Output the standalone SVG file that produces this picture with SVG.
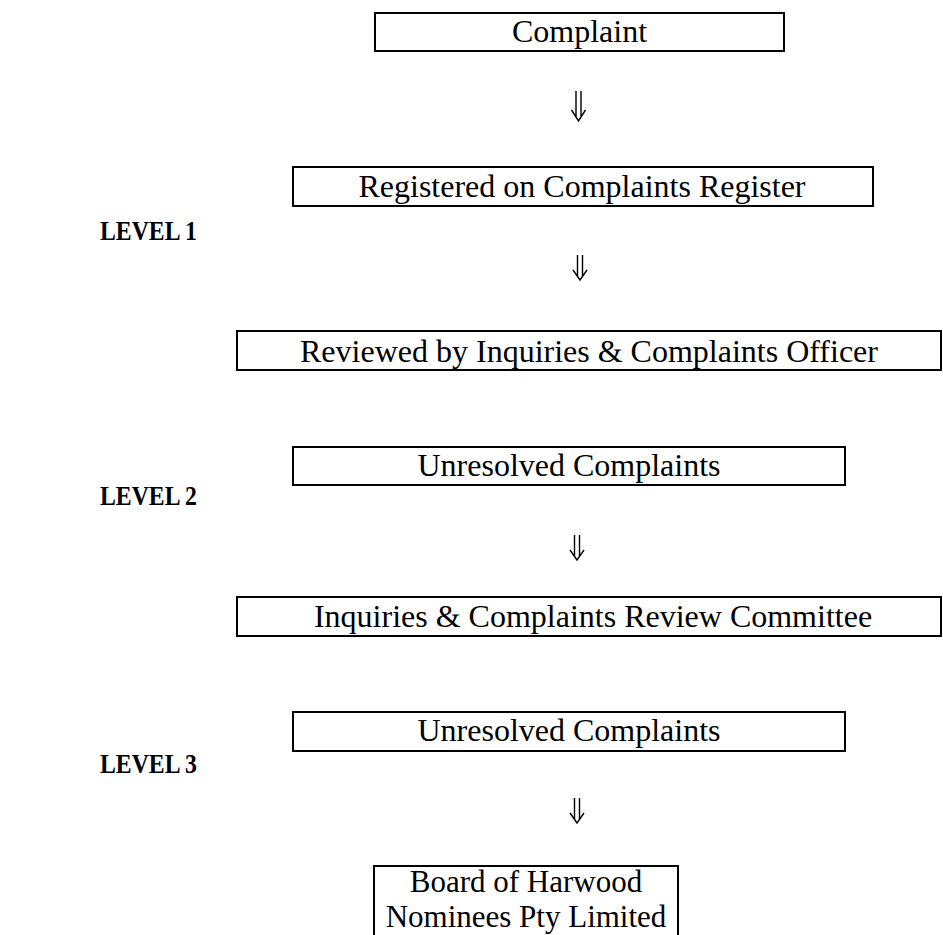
<svg xmlns="http://www.w3.org/2000/svg" width="943" height="935" viewBox="0 0 943 935">
<style>
.box{fill:#fff;stroke:#000;stroke-width:2}
.t{font-family:"Liberation Serif","Times New Roman",serif;font-size:32px;fill:#000;text-anchor:middle}
.t2{font-family:"Liberation Serif","Times New Roman",serif;font-size:31px;fill:#000;text-anchor:middle}
.lv{font-family:"Liberation Serif","Times New Roman",serif;font-size:28px;font-weight:bold;fill:#000}
.arr{fill:none;stroke:#000;stroke-width:1.4}
</style>
<rect width="943" height="935" fill="#fff"/>
<g id="n1"><rect class="box" x="375" y="13" width="409" height="38"/><text class="t" x="579.5" y="42">Complaint</text></g>
<g id="n2"><rect class="box" x="293" y="167" width="580" height="39"/><text class="t" x="582" y="197">Registered on Complaints Register</text></g>
<g id="n3"><rect class="box" x="237" y="331" width="704" height="39"/><text class="t" x="589" y="362">Reviewed by Inquiries &amp; Complaints Officer</text></g>
<g id="n4"><rect class="box" x="293" y="447" width="552" height="38"/><text class="t" x="569" y="476">Unresolved Complaints</text></g>
<g id="n5"><rect class="box" x="237" y="597" width="704" height="39"/><text class="t" x="593" y="627">Inquiries &amp; Complaints Review Committee</text></g>
<g id="n6"><rect class="box" x="293" y="712" width="552" height="39"/><text class="t" x="569" y="741">Unresolved Complaints</text></g>
<g id="n7"><rect class="box" x="374" y="866" width="304" height="80"/><text class="t2" x="526" y="892">Board of Harwood</text><text class="t2" x="526" y="927">Nominees Pty Limited</text></g>
<g id="lv1"><text class="lv" x="100" y="240" textLength="97" lengthAdjust="spacingAndGlyphs">LEVEL 1</text></g>
<g id="lv2"><text class="lv" x="100" y="505" textLength="97" lengthAdjust="spacingAndGlyphs">LEVEL 2</text></g>
<g id="lv3"><text class="lv" x="100" y="773" textLength="97" lengthAdjust="spacingAndGlyphs">LEVEL 3</text></g>
<g id="connectors">
<path class="arr" d="M576 91V117M581 91V117M571.5 110L578.5 121L585.5 110"/>
<path class="arr" d="M577.5 255V276M582.5 255V276M573 270L580 280L587 270"/>
<path class="arr" d="M574.5 535V556M579.5 535V556M570 550L577 560L584 550"/>
<path class="arr" d="M574.5 798V819M579.5 798V819M570 813L577 823L584 813"/>
</g>
</svg>
